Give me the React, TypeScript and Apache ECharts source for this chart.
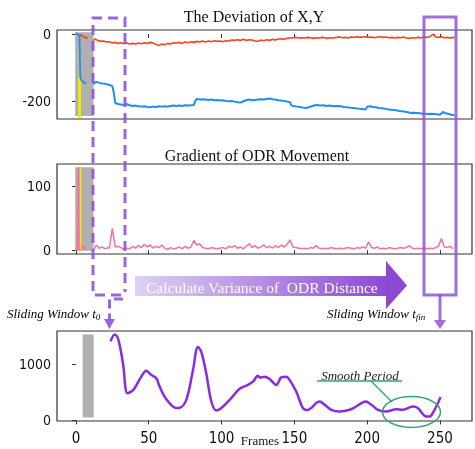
import React, { useEffect, useRef } from "react";
import * as echarts from "echarts";

// ---------- data ----------
const xTicks = [0, 50, 100, 150, 200, 250];
const devTicks = [-200, 0];
const gradTicks = [0, 100];
const varTicks = [0, 1000];

const redInit = [[2.3, -2], [4, -5], [5.5, -9], [7.4, -12], [8, -10]];
const redMain = [
  [12, -20], [13, -15], [15, -19], [17, -22], [19, -21], [21, -24], [23, -23], [25, -27], [27, -25], [29, -28],
  [31, -26], [33, -29], [35, -27], [37, -30], [39, -28], [41, -30], [43, -27], [45, -29], [47, -26], [49, -28],
  [51, -25], [53, -27], [55, -31], [57, -34], [59, -30], [61, -32], [63, -28], [65, -30], [67, -26], [69, -27],
  [71, -25], [73, -28], [75, -24], [77, -26], [79, -23], [81, -25], [83, -22], [85, -24], [87, -21], [89, -24],
  [91, -21], [93, -23], [95, -20], [97, -22], [99, -21], [101, -23], [103, -20], [105, -21], [107, -18], [109, -19],
  [111, -17], [113, -19], [115, -16], [117, -19], [119, -17], [121, -18], [123, -21], [125, -22], [127, -18], [129, -20],
  [131, -17], [133, -19], [135, -16], [137, -18], [139, -15], [141, -14], [143, -16], [145, -13], [147, -12], [149, -11],
  [151, -10], [153, -12], [155, -11], [157, -12], [159, -10], [161, -11], [163, -13], [165, -11], [167, -12], [169, -10],
  [171, -11], [173, -13], [175, -11], [177, -12], [179, -10], [181, -9], [183, -11], [185, -10], [187, -12], [189, -9],
  [191, -10], [193, -8], [195, -10], [197, -9], [199, -8], [201, -10], [203, -9], [205, -11], [207, -9], [209, -8],
  [211, -10], [213, -9], [215, -11], [217, -10], [219, -12], [221, -10], [223, -11], [225, -9], [227, -12], [229, -13],
  [231, -11], [233, -12], [235, -10], [237, -11], [239, -9], [241, -10], [243, -8], [245, -2], [246, -1], [247, -9],
  [249, -10], [251, -8], [253, -11], [255, -10], [257, -12], [259, -10], [260, -11],
];
const blueInit = [[0, 3], [1.4, -2], [2.4, -3], [2.7, -60], [2.9, -120], [3.3, -135], [4.5, -142], [6.2, -146], [6.8, -149]];
const blueMain = [
  [12, -151], [13, -145], [14, -143], [16, -146], [18, -148], [20, -149], [22, -151], [24, -154], [25, -156], [26, -175],
  [27, -206], [29, -209], [31, -211], [33, -212], [35, -210], [37, -213], [39, -215], [41, -214], [43, -216], [45, -217],
  [47, -216], [49, -218], [51, -219], [53, -217], [55, -218], [57, -216], [59, -217], [61, -216], [63, -217], [65, -215],
  [67, -214], [69, -215], [71, -214], [73, -215], [75, -213], [77, -214], [79, -213], [81, -212], [82, -200], [83, -194],
  [85, -196], [87, -195], [89, -196], [91, -197], [93, -196], [95, -198], [97, -197], [99, -199], [101, -198], [103, -200],
  [105, -201], [107, -200], [109, -202], [111, -204], [113, -205], [115, -201], [117, -198], [119, -196], [121, -198], [123, -197],
  [125, -196], [127, -195], [129, -196], [131, -194], [133, -193], [135, -195], [137, -196], [139, -198], [141, -199], [143, -200],
  [145, -202], [147, -204], [148, -214], [150, -216], [152, -217], [154, -218], [156, -220], [158, -221], [160, -219], [162, -216],
  [164, -213], [166, -212], [168, -214], [170, -213], [172, -215], [174, -214], [176, -215], [178, -216], [180, -215], [182, -216],
  [184, -218], [186, -219], [188, -220], [190, -221], [192, -222], [194, -223], [196, -224], [198, -225], [199, -226], [200, -217],
  [202, -216], [204, -218], [206, -219], [208, -221], [210, -222], [212, -223], [214, -225], [216, -226], [218, -227], [220, -228],
  [222, -230], [224, -231], [226, -232], [228, -234], [230, -236], [232, -235], [234, -236], [236, -237], [238, -238], [240, -238],
  [242, -239], [244, -238], [246, -239], [248, -240], [250, -241], [252, -233], [254, -237], [256, -239], [258, -241], [260, -243],
];
const yellowTop = [[2.5, -130], [2.5, -252]];
const yellowTopThin = [[2.3, -10], [2.3, -130]];

const pinkInit = [[0, 0], [1.2, 1], [1.6, 128], [2.0, 2], [2.8, 0], [3.6, 1], [4.3, 8], [5, 3], [5.8, 6], [6.5, 1]];
const pinkMain = [
  [12, 0], [14, 8], [16, 3], [18, 5], [20, 2], [22, 4], [23, 3], [25, 34], [27, 5], [29, 6],
  [31, 4], [33, 1], [35, 3], [37, 2], [39, 6], [41, 3], [43, 7], [45, 4], [47, 9], [49, 5],
  [51, 8], [53, 3], [55, 6], [57, 4], [59, 8], [61, 3], [63, 1], [65, 4], [67, 2], [69, 3],
  [71, 5], [73, 2], [75, 6], [77, 3], [79, 5], [81, 15], [83, 8], [85, 10], [87, 4], [89, 3],
  [91, 2], [93, 4], [95, 3], [97, 2], [99, 3], [101, 4], [103, 2], [105, 6], [107, 4], [109, 7],
  [111, 3], [113, 5], [115, 2], [117, 6], [119, 10], [121, 4], [123, 7], [125, 3], [127, 5], [129, 8],
  [131, 4], [133, 6], [135, 3], [137, 7], [139, 4], [141, 8], [143, 5], [145, 9], [147, 16], [149, 5],
  [151, 4], [153, 3], [155, 2], [157, 3], [159, 2], [161, 4], [163, 3], [165, 7], [167, 3], [169, 2],
  [171, 3], [173, 2], [175, 4], [177, 3], [179, 2], [181, 3], [183, 2], [185, 3], [187, 4], [189, 3],
  [191, 2], [193, 4], [195, 3], [197, 5], [199, 3], [201, 13], [203, 4], [205, 3], [207, 5], [209, 2],
  [211, 3], [213, 2], [215, 4], [217, 3], [219, 2], [221, 3], [223, 4], [225, 3], [227, 4], [229, 7],
  [231, 3], [233, 2], [235, 3], [237, 2], [239, 3], [241, 2], [243, 3], [245, 2], [247, 4], [249, 6],
  [251, 18], [253, 5], [255, 4], [257, 6], [259, 2],
];
const yellowMid = [[3.2, 0], [3.2, 128]];

const varianceCurve = [
  [23.8, 1400], [26.6, 1524], [28.9, 1453], [32.3, 1012], [35.3, 483], [38, 511], [40.3, 571], [44.9, 776],
  [48.3, 880], [51.8, 806], [55.2, 748], [57.5, 600], [62, 380], [68.9, 219], [71, 222], [75.8, 365],
  [80.4, 894], [83.8, 1300], [86.1, 1217], [89.5, 836], [93, 336], [96.4, 177], [99.9, 219], [105.6, 365],
  [112.4, 560], [118.1, 630], [121.6, 688], [125, 790], [126.4, 759], [129.6, 776], [133, 735], [137.6, 630],
  [141, 762], [144.5, 776], [146.7, 718], [151.3, 512], [155.9, 219], [159.3, 185], [162, 230], [165, 307],
  [167.4, 336], [170.8, 277], [175.4, 189], [181, 159], [188, 189], [192.5, 247], [199, 336], [202.9, 277],
  [207.4, 189], [213, 159], [220, 200], [224.5, 189], [231.4, 247], [234.8, 219], [240.6, 71], [242.9, 71],
  [246.3, 189], [250.4, 413],
];

// ---------- chart ----------
const PURPLE = "#9055d6";
const GREEN = "#2fa56d";

export default function App() {
  const ref = useRef<HTMLDivElement>(null);
  useEffect(() => {
    if (!ref.current) return;
    const chart = echarts.init(ref.current, null, { renderer: "svg" });
    const tickFont = "'DejaVu Sans Condensed', 'DejaVu Sans', sans-serif";
    const grids = [
      { left: 57, right: 3, top: 30, height: 89 },
      { left: 57, right: 3, top: 164, height: 90 },
      { left: 57, right: 3, top: 331, height: 90 },
    ].map((g) => ({ ...g, show: true, borderColor: "#333", borderWidth: 1.2, backgroundColor: "transparent" }));

    const fmt = (v: number) => String(v);
    const mkX = (i: number, labels: boolean) => ({
      type: "value",
      gridIndex: i,
      min: -13,
      max: 272,
      axisLine: { show: false },
      splitLine: { show: false },
      axisTick: { show: true, length: 4, customValues: xTicks, lineStyle: { color: "#333" } },
      axisLabel: {
        show: labels,
        customValues: xTicks,
        formatter: fmt,
        margin: 9,
        fontSize: 15,
        color: "#111",
        fontFamily: tickFont,
      },
    });
    const mkY = (i: number, min: number, max: number, ticks: number[]) => ({
      type: "value",
      gridIndex: i,
      min,
      max,
      axisLine: { show: false },
      splitLine: { show: false },
      axisTick: { show: true, length: 4, customValues: ticks, lineStyle: { color: "#333" } },
      axisLabel: { customValues: ticks, formatter: fmt, margin: 6, fontSize: 14, color: "#111", fontFamily: tickFont },
    });

    const line = (xi: number, data: number[][], color: string, width: number, z = 3, smooth: any = false) => ({
      type: "line",
      xAxisIndex: xi,
      yAxisIndex: xi,
      data,
      showSymbol: false,
      smooth,
      z,
      lineStyle: { color, width },
      silent: true,
    });
    const area = (xi: number, a: number[], b: number[]) => ({
      type: "line",
      xAxisIndex: xi,
      yAxisIndex: xi,
      data: [],
      z: 1,
      silent: true,
      markArea: {
        silent: true,
        itemStyle: { color: "#b0b0b0" },
        data: [[{ xAxis: a[0], yAxis: a[1] }, { xAxis: b[0], yAxis: b[1] }]],
      },
    });

    const serif = "'Liberation Serif', 'DejaVu Serif', serif";
    const subText = (x: number, y: number, main: string, sub: string) => ({
      type: "text",
      x,
      y,
      style: {
        text: `{m|${main}}{s|${sub}}`,
        textVerticalAlign: "middle",
        rich: {
          m: { fontFamily: serif, fontStyle: "italic", fontSize: 13, color: "#222", lineHeight: 16, verticalAlign: "middle" },
          s: { fontFamily: serif, fontStyle: "italic", fontSize: 9, color: "#222", lineHeight: 9, verticalAlign: "bottom" },
        },
      },
      z: 20,
    });

    chart.setOption({
      animation: false,
      grid: grids,
      xAxis: [mkX(0, false), mkX(1, false), mkX(2, true)],
      yAxis: [mkY(0, -254, 12, devTicks), mkY(1, -6, 134, gradTicks), mkY(2, -10, 1585, varTicks)],
      series: [
        area(0, [-0.5, 5], [12, -245]),
        line(0, yellowTopThin, "#f5e600", 1),
        line(0, yellowTop, "#f5e600", 3),
        line(0, redInit, "#f2471b", 1.8),
        line(0, blueInit, "#1f8ef1", 1.8),
        line(0, redMain, "#f2471b", 1.6),
        line(0, blueMain, "#1f8ef1", 2),
        area(1, [-0.5, 129], [12, -1]),
        line(1, pinkInit, "#f7709f", 1.8),
        line(1, yellowMid, "#f5e600", 1.5),
        line(1, pinkMain, "#f7709f", 1.5),
        area(2, [4.6, 1524], [12.2, 53]),
        line(2, varianceCurve, "#8a2be2", 2.5, 3, 0.35),
      ],
      graphic: [
        { type: "text", x: 254, y: 16, style: { text: "The Deviation of X,Y", fontFamily: serif, fontSize: 16, fill: "#111", textAlign: "center", textVerticalAlign: "middle" } },
        { type: "text", x: 257, y: 155, style: { text: "Gradient of ODR Movement", fontFamily: serif, fontSize: 16, fill: "#111", textAlign: "center", textVerticalAlign: "middle" } },
        { type: "text", x: 260, y: 440, style: { text: "Frames", fontFamily: serif, fontSize: 13, fill: "#111", textAlign: "center", textVerticalAlign: "middle" } },
        // dashed window at t0
        { type: "polyline", z: 15, shape: { points: [[121, 295], [93, 295], [93, 18], [125, 18], [125, 292]] }, style: { stroke: PURPLE, lineWidth: 3, fill: null, lineDash: [10, 6], opacity: 0.9 } },
        { type: "polyline", z: 15, shape: { points: [[123, 299], [109.5, 299], [109.5, 320]] }, style: { stroke: PURPLE, lineWidth: 3, fill: null, lineDash: [9, 5], opacity: 0.9 } },
        { type: "polygon", z: 15, shape: { points: [[104, 319], [115, 319], [109.5, 329]] }, style: { fill: PURPLE, opacity: 0.9 } },
        // solid window at t_fin
        { type: "rect", z: 15, shape: { x: 424, y: 17, width: 32, height: 278 }, style: { stroke: PURPLE, lineWidth: 3, fill: null, opacity: 0.85 } },
        { type: "line", z: 15, shape: { x1: 440, y1: 295, x2: 440, y2: 321 }, style: { stroke: PURPLE, lineWidth: 3, opacity: 0.85 } },
        { type: "polygon", z: 15, shape: { points: [[434, 320], [446, 320], [440, 329]] }, style: { fill: PURPLE, opacity: 0.85 } },
        // big arrow
        {
          type: "rect", z: 14, shape: { x: 135, y: 276, width: 252, height: 20 },
          style: { fill: new echarts.graphic.LinearGradient(0, 0, 1, 0, [{ offset: 0, color: "#ddd2f3" }, { offset: 1, color: "#8d49d4" }]) },
        },
        { type: "polygon", z: 14, shape: { points: [[386, 261], [407, 285.5], [386, 309]] }, style: { fill: "#8c48d3" } },
        { type: "text", z: 16, x: 146, y: 287, style: { text: "Calculate Variance of  ODR Distance", fontFamily: serif, fontSize: 15.5, fill: "#ffffff", textVerticalAlign: "middle" } },
        // sliding window labels
        subText(7, 313, "Sliding Window t", "0"),
        subText(327, 313, "Sliding Window t", "fin"),
        // smooth period
        { type: "text", z: 16, x: 360, y: 375, style: { text: "Smooth Period", fontFamily: serif, fontStyle: "italic", fontSize: 13, fill: "#222", textAlign: "center", textVerticalAlign: "middle" } },
        { type: "line", z: 16, shape: { x1: 317, y1: 381, x2: 402, y2: 381 }, style: { stroke: GREEN, lineWidth: 1.3 } },
        { type: "line", z: 16, shape: { x1: 371, y1: 381, x2: 392, y2: 402 }, style: { stroke: GREEN, lineWidth: 1.3 } },
        { type: "ellipse", z: 16, shape: { cx: 411.5, cy: 412, rx: 29, ry: 15.5 }, style: { stroke: GREEN, lineWidth: 1.5, fill: null } },
      ],
    });
    return () => chart.dispose();
  }, []);
  return <div ref={ref} style={{ position: "fixed", left: 0, top: 0, width: 475, height: 449 }} />;
}
